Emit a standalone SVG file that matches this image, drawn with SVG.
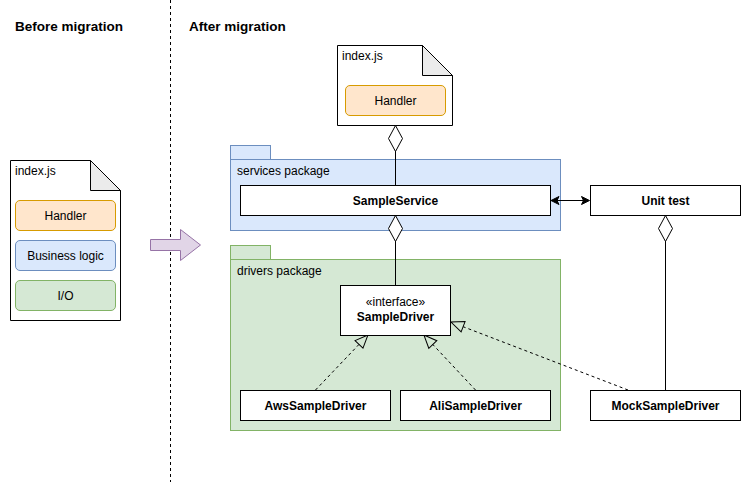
<svg xmlns="http://www.w3.org/2000/svg" width="741" height="482" viewBox="0 0 741 482">
<style>
text{font-family:"Liberation Sans",Arial,sans-serif;font-size:12px;fill:#000}
.b{font-weight:bold}
.c{text-anchor:middle}
.box{fill:#fff;stroke:#000;stroke-width:1}
.orange{fill:#ffe6cc;stroke:#d79b00}
.blue{fill:#dae8fc;stroke:#6c8ebf}
.green{fill:#d5e8d4;stroke:#82b366}
.ln{fill:none;stroke:#000;stroke-width:1}
.dash{stroke-dasharray:3,3}
.fold{fill:#ebebeb;stroke:#000}
</style>
<defs>
<marker id="tri" markerUnits="userSpaceOnUse" markerWidth="16" markerHeight="14" viewBox="-1 -7 16 14" refX="0" refY="0" orient="auto">
<path d="M0,-5.5 L13,0 L0,5.5 Z" fill="none" stroke="#000" stroke-width="1"/>
</marker>
</defs>
<rect width="741" height="482" fill="#fff"/>
<g id="titles">
<text x="15" y="31" class="b" style="font-size:13.5px">Before migration</text>
<text x="189" y="31" class="b" style="font-size:13.5px">After migration</text>
</g>
<g id="divider"><line x1="170.5" y1="0" x2="170.5" y2="482" class="ln dash"/></g>
<g id="old-index">
<path d="M10.5,160.5 H90.5 L120.5,190.5 V320.5 H10.5 Z" class="box"/>
<path d="M90.5,160.5 V190.5 H120.5 Z" class="fold"/>
<text x="15" y="175">index.js</text>
<rect x="15.5" y="200.5" width="100" height="30" rx="4.5" class="orange"/>
<text x="65.5" y="220" class="c">Handler</text>
<rect x="15.5" y="240.5" width="100" height="30" rx="4.5" class="blue"/>
<text x="65.5" y="260" class="c">Business logic</text>
<rect x="15.5" y="280.5" width="100" height="30" rx="4.5" class="green"/>
<text x="65.5" y="300" class="c">I/O</text>
</g>
<g id="migrate-arrow">
<path d="M150.5,239.5 H180.5 V229.5 L200.5,245 L180.5,260.5 V250.5 H150.5 Z" fill="#e1d5e7" stroke="#9673a6"/>
</g>
<g id="new-index">
<path d="M337.5,45.5 H422.5 L452.5,75.5 V125.5 H337.5 Z" class="box"/>
<path d="M422.5,45.5 V75.5 H452.5 Z" class="fold"/>
<text x="342" y="60">index.js</text>
<rect x="345.5" y="85.5" width="100" height="30" rx="4.5" class="orange"/>
<text x="395.5" y="105" class="c">Handler</text>
</g>
<g id="services-package">
<rect x="230.5" y="145.5" width="40" height="14" class="blue"/>
<rect x="230.5" y="159.5" width="330" height="71" class="blue"/>
<text x="237" y="175">services package</text>
</g>
<g id="drivers-package">
<rect x="230.5" y="245.5" width="40" height="14" class="green"/>
<rect x="230.5" y="259.5" width="330" height="171" class="green"/>
<text x="237" y="275">drivers package</text>
</g>
<g id="connectors">
<line x1="395.5" y1="151" x2="395.5" y2="185" class="ln"/>
<polygon points="395.5,125.5 402.5,138.5 395.5,151.5 388.5,138.5" fill="#fff" stroke="#000"/>
<line x1="395.5" y1="241" x2="395.5" y2="285" class="ln"/>
<polygon points="395.5,215.5 402.5,228.5 395.5,241.5 388.5,228.5" fill="#fff" stroke="#000"/>
<line x1="665.5" y1="241" x2="665.5" y2="390" class="ln"/>
<polygon points="665.5,215.5 672.5,228.5 665.5,241.5 658.5,228.5" fill="#fff" stroke="#000"/>
<line x1="555" y1="200.5" x2="585" y2="200.5" class="ln"/>
<path d="M551,200.5 L559,196.5 L557,200.5 L559,204.5 Z" fill="#000" stroke="#000"/>
<path d="M589.5,200.5 L581.5,196.5 L583.5,200.5 L581.5,204.5 Z" fill="#000" stroke="#000"/>
<line x1="315.5" y1="390" x2="359.0" y2="344.4" class="ln dash" marker-end="url(#tri)"/>
<line x1="475.5" y1="390" x2="432.8" y2="344.5" class="ln dash" marker-end="url(#tri)"/>
<line x1="628" y1="390" x2="463.1" y2="326.7" class="ln dash" marker-end="url(#tri)"/>
</g>
<g id="sample-service">
<rect x="240.5" y="185.5" width="310" height="30" class="box"/>
<text x="395.5" y="205" class="c b">SampleService</text>
</g>
<g id="sample-driver">
<rect x="340.5" y="285.5" width="110" height="50" class="box"/>
<text x="395.5" y="306" class="c">«interface»</text>
<text x="395.5" y="321" class="c b">SampleDriver</text>
</g>
<g id="aws-driver">
<rect x="240.5" y="390.5" width="150" height="30" class="box"/>
<text x="315.5" y="410" class="c b">AwsSampleDriver</text>
</g>
<g id="ali-driver">
<rect x="400.5" y="390.5" width="150" height="30" class="box"/>
<text x="475.5" y="410" class="c b">AliSampleDriver</text>
</g>
<g id="unit-test">
<rect x="590.5" y="185.5" width="150" height="30" class="box"/>
<text x="665.5" y="205" class="c b">Unit test</text>
</g>
<g id="mock-driver">
<rect x="590.5" y="390.5" width="150" height="30" class="box"/>
<text x="665.5" y="410" class="c b">MockSampleDriver</text>
</g>
</svg>
